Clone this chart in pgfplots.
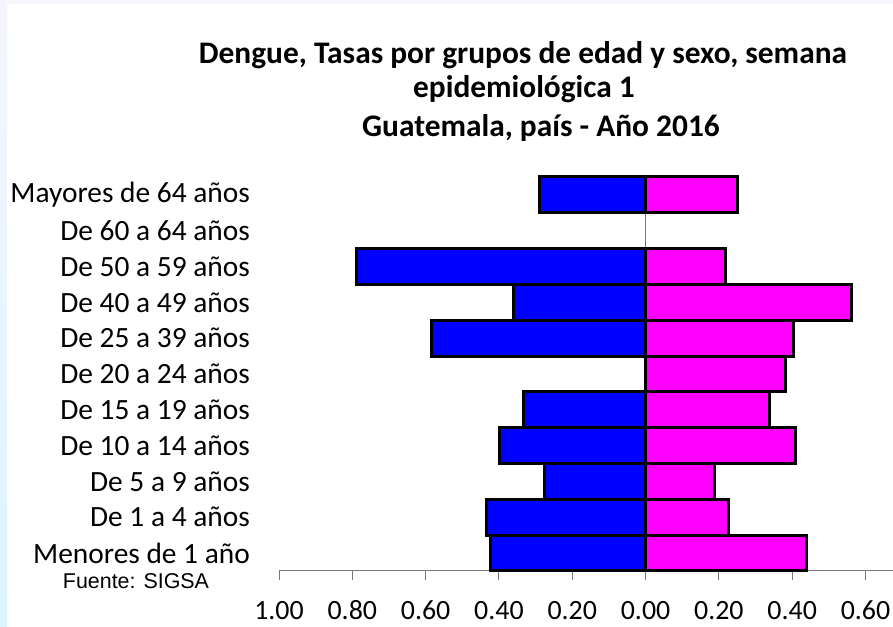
\documentclass[border=0pt]{standalone}
\usepackage{fontspec}
\setmainfont{Carlito}
\newfontfamily\arialf{Liberation Sans}
\usepackage{pgfplots}
\pgfplotsset{compat=1.18}
\definecolor{hombres}{RGB}{0,0,255}
\definecolor{mujeres}{RGB}{255,0,255}
\definecolor{axgray}{RGB}{120,120,120}

\begin{document}
\begin{tikzpicture}[x=1bp,y=1bp]
\useasboundingbox (0,0) rectangle (893,627);
% slide background strips
\shade[top color=black!3!blue!4, bottom color=blue!30!cyan!14!white] (0,0) rectangle (7,627);
\fill[black!2!blue!3] (7,623) rectangle (893,627);

\node[font=\fontsize{31.5}{36}\selectfont\bfseries] at (523,572) {Dengue, Tasas por grupos de edad y sexo, semana};
\node[font=\fontsize{31.5}{36}\selectfont\bfseries] at (524,538) {epidemiológica 1};
\node[font=\fontsize{31.5}{36}\selectfont\bfseries] at (541,499) {Guatemala, país - Año 2016};
\node[font=\arialf\fontsize{21.5}{25}\selectfont] at (136,46) {Fuente: SIGSA};

\begin{axis}[
  at={(279bp,56bp)}, anchor=south west,
  scale only axis, width=614bp, height=394bp,
  xbar, bar width=1, bar shift=0pt,
  xmin=-1, xmax=0.675, ymin=-0.5, ymax=10.5,
  xtick={-1,-0.8,-0.6,-0.4,-0.2,0,0.2,0.4,0.6},
  xticklabels={1.00,0.80,0.60,0.40,0.20,0.00,0.20,0.40,0.60},
  ytick={0,...,10},
  yticklabels={Menores de 1 año,De 1 a 4 años,De 5 a 9 años,De 10 a 14 años,De 15 a 19 años,De 20 a 24 años,De 25 a 39 años,De 40 a 49 años,De 50 a 59 años,De 60 a 64 años,Mayores de 64 años},
  axis x line*=bottom, axis y line*=left,
  y axis line style={draw=none},
  x axis line style={draw=axgray, line width=1pt, -},
  xtick style={draw=axgray, line width=1pt},
  ytick style={draw=none},
  tick align=outside, major tick length=9bp,
  xticklabel style={font=\fontsize{28}{32}\selectfont, anchor=base, inner sep=0pt, yshift=-40bp},
  yticklabel style={font=\fontsize{29.5}{34}\selectfont, anchor=east, inner sep=0pt, xshift=-20bp},
  /pgf/number format/assume math mode=true,
  clip=false,
]
\draw[axgray, line width=0.8pt] (axis cs:0,-0.5) -- (axis cs:0,10.5);
\addplot[fill=hombres, draw=black, line width=3bp] coordinates {
(-0.423,0) (-0.434,1) (-0.276,2) (-0.398,3) (-0.334,4) (-0.584,6) (-0.359,7) (-0.789,8) (-0.290,10)};
\addplot[fill=mujeres, draw=black, line width=3bp] coordinates {
(0.440,0) (0.225,1) (0.187,2) (0.408,3) (0.337,4) (0.381,5) (0.404,6) (0.563,7) (0.217,8) (0.252,10)};
\end{axis}
\end{tikzpicture}
\end{document}
